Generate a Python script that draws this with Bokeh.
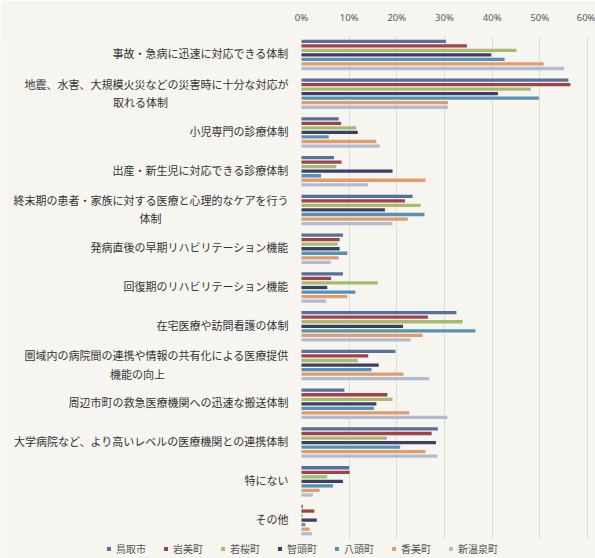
from bokeh.plotting import figure
from bokeh.models import (Range1d, Legend, LegendItem, NumeralTickFormatter,
                          FixedTicker, ColumnDataSource, Grid)
from bokeh.core.properties import value
from bokeh.embed import file_html
from bokeh.resources import INLINE

# Survey items (top to bottom); "\n" marks a wrapped label
categories = [
    "事故・急病に迅速に対応できる体制",
    "地震、水害、大規模火災などの災害時に十分な対応が\n取れる体制",
    "小児専門の診療体制",
    "出産・新生児に対応できる診療体制",
    "終末期の患者・家族に対する医療と心理的なケアを行う\n体制",
    "発病直後の早期リハビリテーション機能",
    "回復期のリハビリテーション機能",
    "在宅医療や訪問看護の体制",
    "圏域内の病院間の連携や情報の共有化による医療提供\n機能の向上",
    "周辺市町の救急医療機関への迅速な搬送体制",
    "大学病院など、より高いレベルの医療機関との連携体制",
    "特にない",
    "その他",
]

towns = ["鳥取市", "岩美町", "若桜町", "智頭町", "八頭町", "香美町", "新温泉町"]

# Share of respondents per item (fractions), one list per town
tottori    = [0.303, 0.560, 0.078, 0.068, 0.233, 0.087, 0.087, 0.325, 0.197, 0.090, 0.286, 0.100, 0.003]
iwami      = [0.347, 0.564, 0.083, 0.084, 0.217, 0.080, 0.062, 0.265, 0.140, 0.180, 0.273, 0.101, 0.027]
wakasa     = [0.451, 0.481, 0.115, 0.073, 0.250, 0.076, 0.160, 0.338, 0.118, 0.191, 0.179, 0.054, 0.003]
chizu      = [0.398, 0.412, 0.118, 0.191, 0.175, 0.080, 0.054, 0.213, 0.162, 0.157, 0.282, 0.087, 0.032]
yazu       = [0.426, 0.498, 0.057, 0.041, 0.258, 0.096, 0.113, 0.365, 0.147, 0.152, 0.207, 0.066, 0.008]
kami       = [0.508, 0.307, 0.157, 0.260, 0.223, 0.078, 0.096, 0.254, 0.214, 0.226, 0.260, 0.038, 0.017]
shinonsen  = [0.551, 0.307, 0.164, 0.140, 0.191, 0.061, 0.052, 0.229, 0.268, 0.306, 0.285, 0.024, 0.022]

series = [tottori, iwami, wakasa, chizu, yazu, kami, shinonsen]
colors = ["#55709c", "#a2414b", "#a6bc6c", "#3c3e66", "#5591b3", "#e39a6c", "#b1bcd2"]

x_ticks = [0.0, 0.1, 0.2, 0.3, 0.4, 0.5, 0.6]

BG = "#f6f5f0"
W, H = 595, 558
TOP = 35                 # space for the percentage axis
ZERO_PX = 301            # horizontal pixel of the 0% line
SPAN_PX = 286            # pixels from 0% to 60%
ppu = SPAN_PX / 0.6      # pixels per unit on the value axis

n = len(categories)
ypos = [n - 1 - k for k in range(n)]          # first item at the top
row_px = 38.77
legend_rows = (H - TOP) / row_px - n          # extra band below the bars for the legend

p = figure(width=W, height=H, output_backend="svg", toolbar_location=None,
           x_range=Range1d(-ZERO_PX / ppu, (W - ZERO_PX) / ppu),
           y_range=Range1d(-0.5 - legend_rows, n - 0.5),
           x_axis_location="above", y_axis_location=None,
           min_border_left=0, min_border_right=0,
           min_border_top=TOP, min_border_bottom=0)
p.background_fill_color = BG
p.border_fill_color = BG
p.outline_line_color = None

# light vertical grid over the bar area only
p.xgrid.visible = False
p.ygrid.visible = False
grid = Grid(dimension=0, ticker=FixedTicker(ticks=x_ticks[1:]),
            grid_line_color="#dddcd6", grid_line_width=1)
if "cross_bounds" in Grid.properties():
    grid.cross_bounds = (-0.5, n - 0.5)
p.add_layout(grid)

# bars: seven towns stacked inside each item band, first town on top
step = 0.117
renderers = []
for i, (vals, col) in enumerate(zip(series, colors)):
    off = (3 - i) * step
    src = ColumnDataSource(dict(y=[y + off for y in ypos], right=vals))
    r = p.hbar(y="y", left=0, right="right", height=0.085, source=src,
               fill_color=col, line_color=None)
    renderers.append(r)

# top percentage axis
p.xaxis.ticker = FixedTicker(ticks=x_ticks)
p.xaxis.formatter = NumeralTickFormatter(format="0%")
p.xaxis.axis_line_color = None
p.xaxis.major_tick_line_color = None
p.xaxis.minor_tick_line_color = None
p.xaxis.major_label_standoff = 6
p.xaxis.major_label_text_font = "Noto Sans"
p.xaxis.major_label_text_font_size = "9.5px"
p.xaxis.major_label_text_color = "#555555"

# item labels to the left of the bars
font = "Noto Sans CJK JP"
label_right = -13 / ppu                       # right edge of single-line labels
wrap_center = {1: -161 / ppu, 4: -151 / ppu, 8: -164 / ppu}
lx, ly, lt, la = [], [], [], []
for k, (cat, y) in enumerate(zip(categories, ypos)):
    lines = cat.split("\n")
    if len(lines) == 1:
        lx.append(label_right); ly.append(y + 0.04); lt.append(lines[0]); la.append("right")
    else:
        lx.append(label_right); ly.append(y + 0.25); lt.append(lines[0]); la.append("right")
        lx.append(wrap_center[k]); ly.append(y - 0.22); lt.append(lines[1]); la.append("center")
p.text(x="x", y="y", text="text", text_align="align", text_baseline="middle",
       source=ColumnDataSource(dict(x=lx, y=ly, text=lt, align=la)),
       text_font=value(font), text_font_size="11px", text_color="#333333")

legend = Legend(items=[LegendItem(label=t, renderers=[r]) for t, r in zip(towns, renderers)],
                orientation="horizontal", location=(106, 2))
legend.background_fill_alpha = 0
legend.border_line_color = None
legend.padding = 0
legend.margin = 0
legend.spacing = 17
legend.glyph_width = 5
legend.glyph_height = 5
legend.label_standoff = 5
legend.label_height = 10
legend.label_width = 10
legend.label_text_font = font
legend.label_text_font_size = "10px"
legend.label_text_color = "#555555"
p.add_layout(legend, "center")

open("out.html", "w").write(file_html(p, INLINE))
